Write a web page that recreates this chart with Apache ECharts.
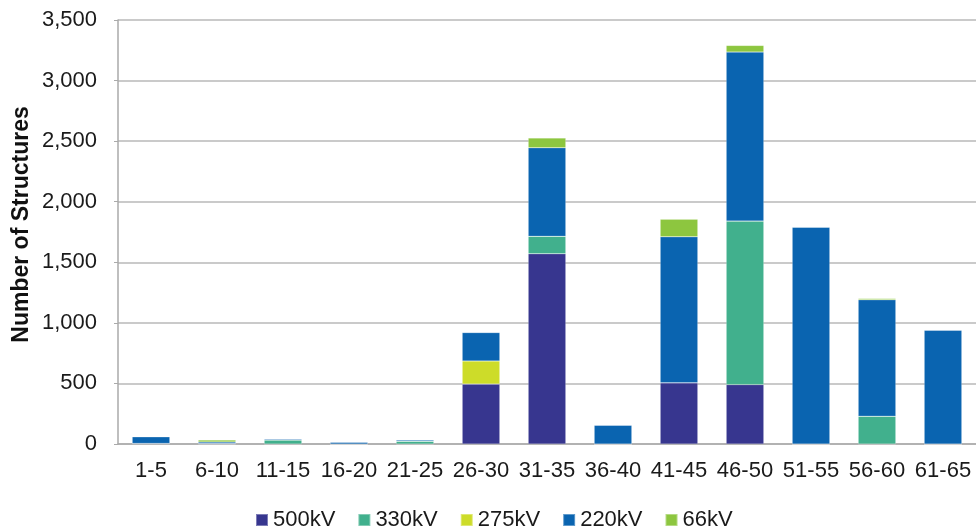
<!DOCTYPE html>
<html><head><meta charset="utf-8">
<script src="https://cdn.jsdelivr.net/npm/echarts@6/dist/echarts.min.js"></script>
<style>html,body{margin:0;padding:0;background:#fff}#c{width:976px;height:531px}</style>
</head><body><div id="c"></div>
<script>
var categories = ['1-5','6-10','11-15','16-20','21-25','26-30','31-35','36-40','41-45','46-50','51-55','56-60','61-65'];
var kv500 = [5, 0, 0, 0, 0, 495, 1570, 0, 505, 490, 0, 0, 0];
var kv330 = [0, 5, 32, 0, 23, 0, 145, 0, 0, 1350, 0, 230, 0];
var kv275 = [0, 0, 0, 0, 0, 190, 0, 0, 0, 0, 0, 0, 0];
var kv220 = [55, 12, 10, 15, 10, 235, 730, 155, 1205, 1395, 1790, 960, 940];
var kv66  = [0, 15, 0, 0, 0, 0, 80, 0, 145, 55, 0, 12, 0];
var seriesNames = ['500kV','330kV','275kV','220kV','66kV'];
var seriesData = [kv500, kv330, kv275, kv220, kv66];
var colors = ['#37368f','#41b08d','#cddc29','#0a64b0','#8dc63f'];

var chart = echarts.init(document.getElementById('c'));
chart.setOption({
  animation: false,
  textStyle: {fontFamily: 'Liberation Sans, Arial, sans-serif'},
  legend: {
    top: 504, left: 250, itemWidth: 12, itemHeight: 12, itemGap: 22,
    icon: 'rect',
    textStyle: {fontSize: 22, color: '#1a1a1a'},
    data: seriesNames
  },
  grid: {left: 118, right: -1, top: 20, bottom: 87, containLabel: false},
  xAxis: {
    type: 'category', data: categories,
    axisLine: {lineStyle: {color: '#aaa', width: 1.5}},
    axisTick: {show: false},
    axisLabel: {fontSize: 22, color: '#1a1a1a', margin: 16, interval: 0}
  },
  yAxis: {
    type: 'value', min: 0, max: 3500, interval: 500,
    name: 'Number of Structures', nameLocation: 'middle', nameGap: 85,
    nameMoveOverlap: false,
    nameTextStyle: {fontSize: 23, fontWeight: 'bold', color: '#111', padding: [0, 0, 0, 15]},
    axisLine: {show: true, lineStyle: {color: '#aaa', width: 1.5}},
    axisTick: {show: true, length: 4, inside: false, lineStyle: {color: '#aaa'}},
    splitLine: {lineStyle: {color: '#b8b8b8', width: 1.5}},
    axisLabel: {fontSize: 22, color: '#1a1a1a', margin: 21,
      formatter: function(v){ return v.toLocaleString('en-US'); }}
  },
  series: seriesNames.map(function(n, i){
    return {
      name: n, type: 'bar', stack: 'total', barWidth: '57%',
      data: seriesData[i],
      itemStyle: {color: colors[i], borderColor: 'rgba(255,255,255,0.35)', borderWidth: 0.5}
    };
  })
});
</script></body></html>
